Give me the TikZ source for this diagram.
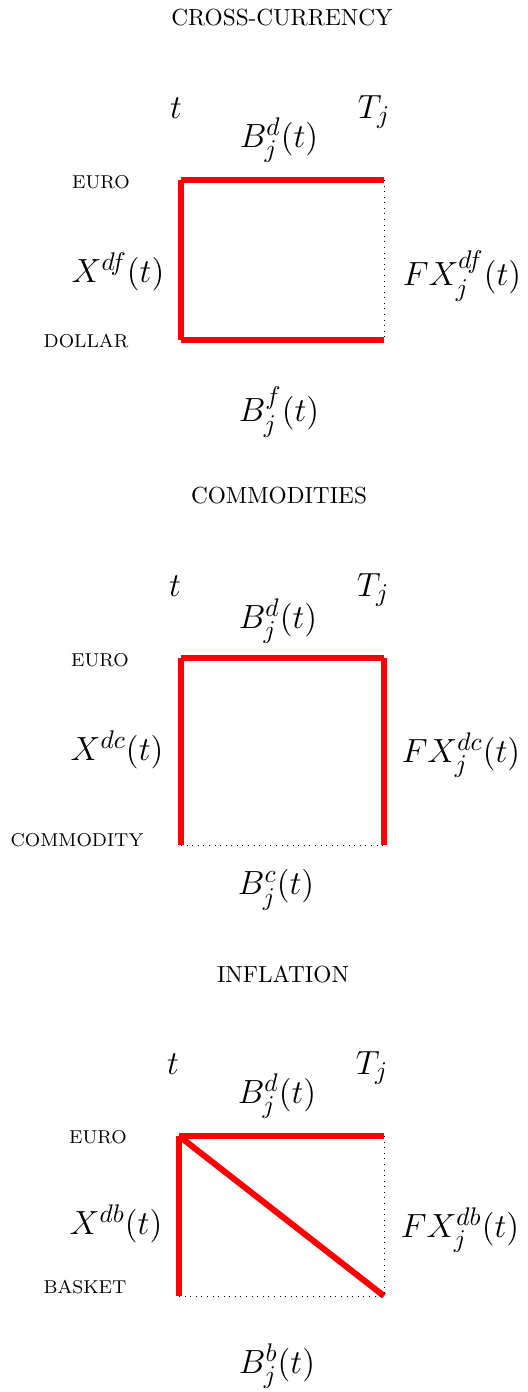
\documentclass[tikz,border=0pt]{standalone}
\usepackage{amsmath,amssymb}
\usepackage{xcolor}
\usepackage{tikz}
\usetikzlibrary{positioning,calc}

\begin{document}
\begin{tikzpicture}[
    title/.style={font=\normalsize, inner sep=0pt},
    curr/.style={font=\footnotesize, inner sep=0pt},
    lab/.style={font=\fontsize{15.4}{18}\selectfont, inner sep=0pt},
    leg/.style={red, line width=2.6pt},
    nolink/.style={black, dotted, line width=0.4pt}
]
    \useasboundingbox (0,0) rectangle (7.958,21.019);

    % cross-currency
    \node[title] (title1) at (4.258,20.747) {CROSS-CURRENCY};
    \node[lab] (t1) at (2.658,19.388) {$t$};
    \node[lab] (T1) at (5.647,19.328) {$T_j$};
    \node[lab] (Bd1) at (4.213,18.905) {$B_j^d(t)$};
    \node[curr] (euro1) at (1.525,18.271) {EURO};
    \node[curr] (low1) at (1.299,15.870) {DOLLAR};
    \node[lab] (X1) at (1.782,16.912) {$X^{df}(t)$};
    \node[lab] (FX1) at (6.976,16.852) {$FX_j^{df}(t)$};
    \node[lab] (Bl1) at (4.213,14.798) {$B_j^f(t)$};
    \coordinate (tl1) at (2.733,18.301);
    \coordinate (tr1) at (5.798,18.301);
    \coordinate (bl1) at (2.733,15.885);
    \coordinate (br1) at (5.798,15.885);
    \draw[leg] (tl1) -- (tr1);
    \draw[leg] (tl1) -- (bl1);
    \draw[leg] (bl1) -- (br1);
    \draw[nolink] (tr1) -- (br1);

    % commodities
    \node[title] (title2) at (4.213,13.529) {COMMODITIES};
    \node[lab] (t2) at (2.643,12.170) {$t$};
    \node[lab] (T2) at (5.632,12.110) {$T_j$};
    \node[lab] (Bd2) at (4.198,11.642) {$B_j^d(t)$};
    \node[curr] (euro2) at (1.510,11.053) {EURO};
    \node[curr] (low2) at (1.163,8.335) {COMMODITY};
    \node[lab] (X2) at (1.767,9.694) {$X^{dc}(t)$};
    \node[lab] (FX2) at (6.961,9.619) {$FX_j^{dc}(t)$};
    \node[lab] (Bl2) at (4.168,7.580) {$B_j^c(t)$};
    \coordinate (tl2) at (2.733,11.083);
    \coordinate (tr2) at (5.798,11.083);
    \coordinate (bl2) at (2.733,8.259);
    \coordinate (br2) at (5.798,8.259);
    \draw[leg] (tl2) -- (tr2);
    \draw[leg] (tl2) -- (bl2);
    \draw[leg] (tr2) -- (br2);
    \draw[nolink] (bl2) -- (br2);

    % inflation
    \node[title] (title3) at (4.273,6.312) {INFLATION};
    \node[lab] (t3) at (2.612,4.953) {$t$};
    \node[lab] (T3) at (5.617,4.893) {$T_j$};
    \node[lab] (Bd3) at (4.183,4.470) {$B_j^d(t)$};
    \node[curr] (euro3) at (1.480,3.850) {EURO};
    \node[curr] (low3) at (1.284,1.585) {BASKET};
    \node[lab] (X3) at (1.752,2.537) {$X^{db}(t)$};
    \node[lab] (FX3) at (6.946,2.446) {$FX_j^{db}(t)$};
    \node[lab] (Bl3) at (4.183,0.393) {$B_j^b(t)$};
    \coordinate (tl3) at (2.703,3.865);
    \coordinate (tr3) at (5.798,3.865);
    \coordinate (bl3) at (2.703,1.450);
    \coordinate (br3) at (5.798,1.450);
    \draw[leg] (tl3) -- (tr3);
    \draw[leg] (tl3) -- (bl3);
    \draw[leg] (tl3) -- (br3);
    \draw[nolink] (tr3) -- (br3);
    \draw[nolink] (bl3) -- (br3);
\end{tikzpicture}
\end{document}
